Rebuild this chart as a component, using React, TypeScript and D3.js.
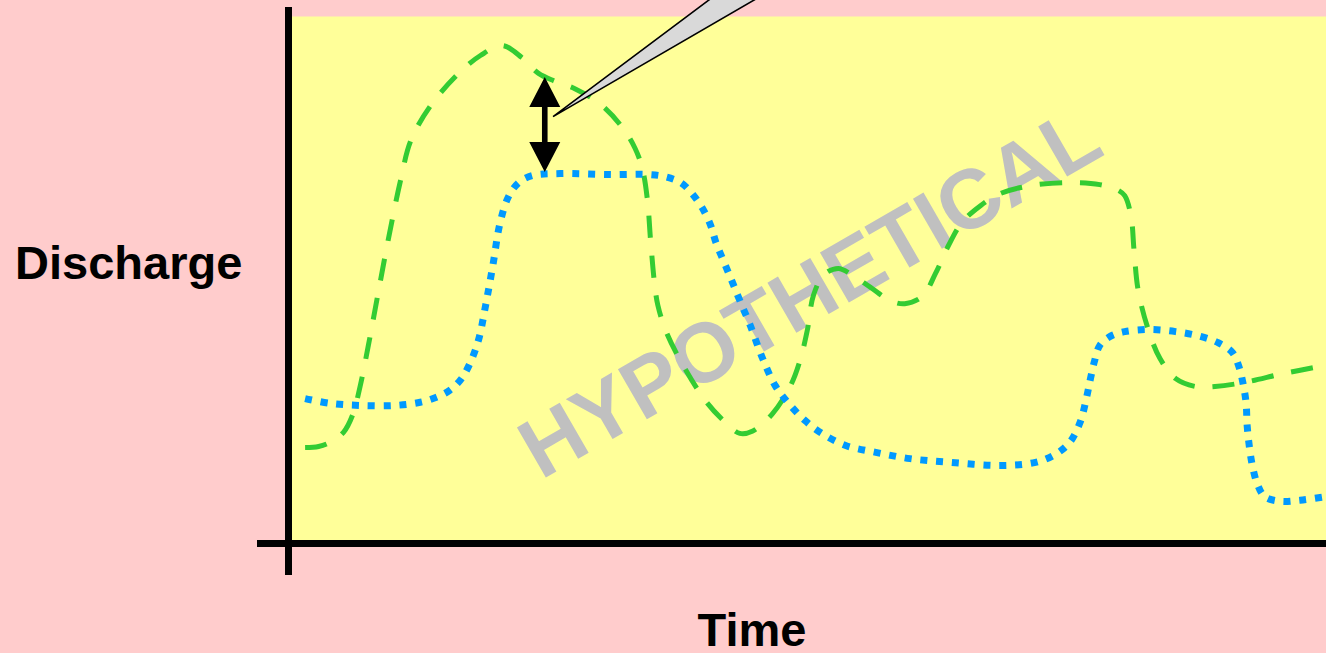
import React from "react";
import * as d3 from "d3";

// ---- data (time in % of span, discharge in % of plot height) ----
const greenTime = [1.6, 2.9, 4.0, 5.3, 6.2, 6.9, 7.7, 8.6, 9.6, 10.8, 11.8, 13.7, 16.4, 18.5, 20.6, 22.5, 24.1, 25.7, 27.6, 30.1, 32.2, 33.4, 34.1, 34.6, 34.9, 35.3, 35.6, 36.4, 38.2, 40.3, 42.1, 43.5, 44.7, 46.6, 48.4, 49.3, 50.0, 50.6, 51.6, 53.0, 54.3, 56.1, 58.0, 59.4, 61.1, 62.4, 63.6, 64.9, 66.7, 68.6, 71.5, 75.3, 78.2, 80.0, 80.6, 81.2, 81.5, 81.9, 82.9, 84.0, 85.5, 87.4, 89.3, 92.2, 96.0, 100];
const greenDischarge = [18.2, 18.4, 19.2, 21.1, 24.5, 29.8, 37.6, 47.1, 57.5, 68.9, 76.5, 83.1, 89.2, 92.6, 94.5, 92.2, 89.2, 87.7, 86.3, 83.3, 78.9, 75.0, 71.2, 65.1, 57.5, 49.0, 45.2, 40.2, 33.2, 26.8, 23.0, 20.9, 21.3, 24.5, 30.0, 34.7, 40.4, 47.1, 51.0, 52.2, 51.0, 48.6, 46.1, 45.5, 46.9, 51.4, 56.5, 60.9, 64.1, 66.4, 67.9, 68.5, 68.1, 67.0, 66.0, 62.2, 55.6, 48.0, 40.4, 35.1, 31.3, 29.8, 29.8, 30.6, 32.3, 33.8];

const blueTime = [1.6, 4.0, 6.9, 10.3, 12.7, 14.2, 15.5, 16.6, 17.4, 18.3, 19.0, 19.7, 20.4, 21.2, 22.2, 23.5, 26.2, 31.0, 34.9, 36.3, 37.8, 38.9, 39.9, 40.7, 41.2, 42.0, 42.8, 43.5, 44.5, 45.7, 46.9, 48.2, 49.8, 51.4, 53.7, 56.6, 59.9, 63.8, 68.6, 72.0, 73.9, 75.3, 76.3, 76.9, 77.3, 77.7, 78.2, 79.2, 80.6, 83.0, 85.5, 87.9, 89.6, 91.0, 91.6, 92.0, 92.3, 92.4, 92.6, 92.9, 93.4, 94.1, 95.6, 97.5, 100];
const blueDischarge = [27.5, 26.6, 26.2, 26.2, 26.8, 27.7, 29.0, 31.1, 33.8, 38.5, 45.2, 52.8, 60.9, 65.8, 68.5, 69.8, 70.2, 70.0, 70.0, 69.6, 68.5, 66.4, 63.6, 60.3, 57.1, 53.3, 49.5, 46.1, 41.4, 35.1, 30.0, 26.6, 23.3, 20.9, 18.6, 17.3, 16.1, 15.4, 14.8, 15.4, 16.9, 19.2, 23.0, 27.5, 31.3, 34.7, 37.6, 39.3, 40.2, 40.6, 40.2, 39.3, 38.1, 36.2, 33.6, 30.4, 26.6, 22.4, 18.6, 14.8, 11.2, 8.9, 8.0, 8.2, 8.9];

const xLabel = "Time";
const yLabel = "Discharge";
const watermark = "HYPOTHETICAL";

// annotation: double arrow showing the gap between the two series
const arrowTime = 24.7;
const arrowTop = 88.5;
const arrowBottom = 70.5;
const calloutTip = { t: 25.5, q: 81.0 };

const W = 1326;
const H = 653;

export default function App() {
  const x = d3.scaleLinear().domain([0, 100]).range([288.5, 1326]);
  const y = d3.scaleLinear().domain([0, 100]).range([543.5, 16.5]);

  const line = d3
    .line<[number, number]>()
    .x((d) => x(d[0]))
    .y((d) => y(d[1]))
    .curve(d3.curveCatmullRom.alpha(0.5));

  const green = greenTime.map((t, i) => [t, greenDischarge[i]] as [number, number]);
  const blue = blueTime.map((t, i) => [t, blueDischarge[i]] as [number, number]);

  const ax = x(arrowTime);
  const aTop = y(arrowTop);
  const aBot = y(arrowBottom);
  const headH = 30;
  const headW = 15.5;
  const shaftW = 2.8;
  const arrowPath = [
    `M${ax},${aTop}`,
    `L${ax + headW},${aTop + headH}`,
    `L${ax + shaftW},${aTop + headH}`,
    `L${ax + shaftW},${aBot - headH}`,
    `L${ax + headW},${aBot - headH}`,
    `L${ax},${aBot}`,
    `L${ax - headW},${aBot - headH}`,
    `L${ax - shaftW},${aBot - headH}`,
    `L${ax - shaftW},${aTop + headH}`,
    `L${ax - headW},${aTop + headH}`,
    "Z",
  ].join("");

  const tx = x(calloutTip.t);
  const ty = y(calloutTip.q);
  const wedge = `M${tx},${ty}L${tx + 155 * 1.2},${ty - 116 * 1.2}L${tx + 200 * 1.2},${ty - 116 * 1.2}Z`;

  return (
    <svg
      width={W}
      height={H}
      style={{ position: "absolute", left: 0, top: 0, display: "block" }}
      fontFamily="'Liberation Sans', Arial, sans-serif"
    >
      <rect x={0} y={0} width={W} height={H} fill="#FFCCCC" />
      <rect x={x(0)} y={y(100)} width={W - x(0)} height={y(0) - y(100)} fill="#FFFF99" />

      <text
        transform={`translate(${x(51.6)},${y(43)}) rotate(-30)`}
        textAnchor="middle"
        fontSize={84}
        fontWeight="bold"
        fill="#C0C0C0"
      >
        {watermark}
      </text>

      <path d={line(green) || ""} fill="none" stroke="#33CC33" strokeWidth={5} strokeDasharray="22 18" />
      <path d={line(blue) || ""} fill="none" stroke="#0099FF" strokeWidth={7} strokeDasharray="7 8.8" />

      <line x1={x(0)} x2={x(0)} y1={7} y2={575} stroke="#000" strokeWidth={7} />
      <line x1={257} x2={W} y1={y(0)} y2={y(0)} stroke="#000" strokeWidth={7} />

      <path d={arrowPath} fill="#000" />
      <path d={wedge} fill="#D9D9D9" stroke="#000" strokeWidth={1.6} strokeLinejoin="miter" />

      <text x={15} y={279} fontSize={47} fontWeight="bold" fill="#000">
        {yLabel}
      </text>
      <text x={752} y={646} fontSize={47} fontWeight="bold" fill="#000" textAnchor="middle">
        {xLabel}
      </text>
    </svg>
  );
}
